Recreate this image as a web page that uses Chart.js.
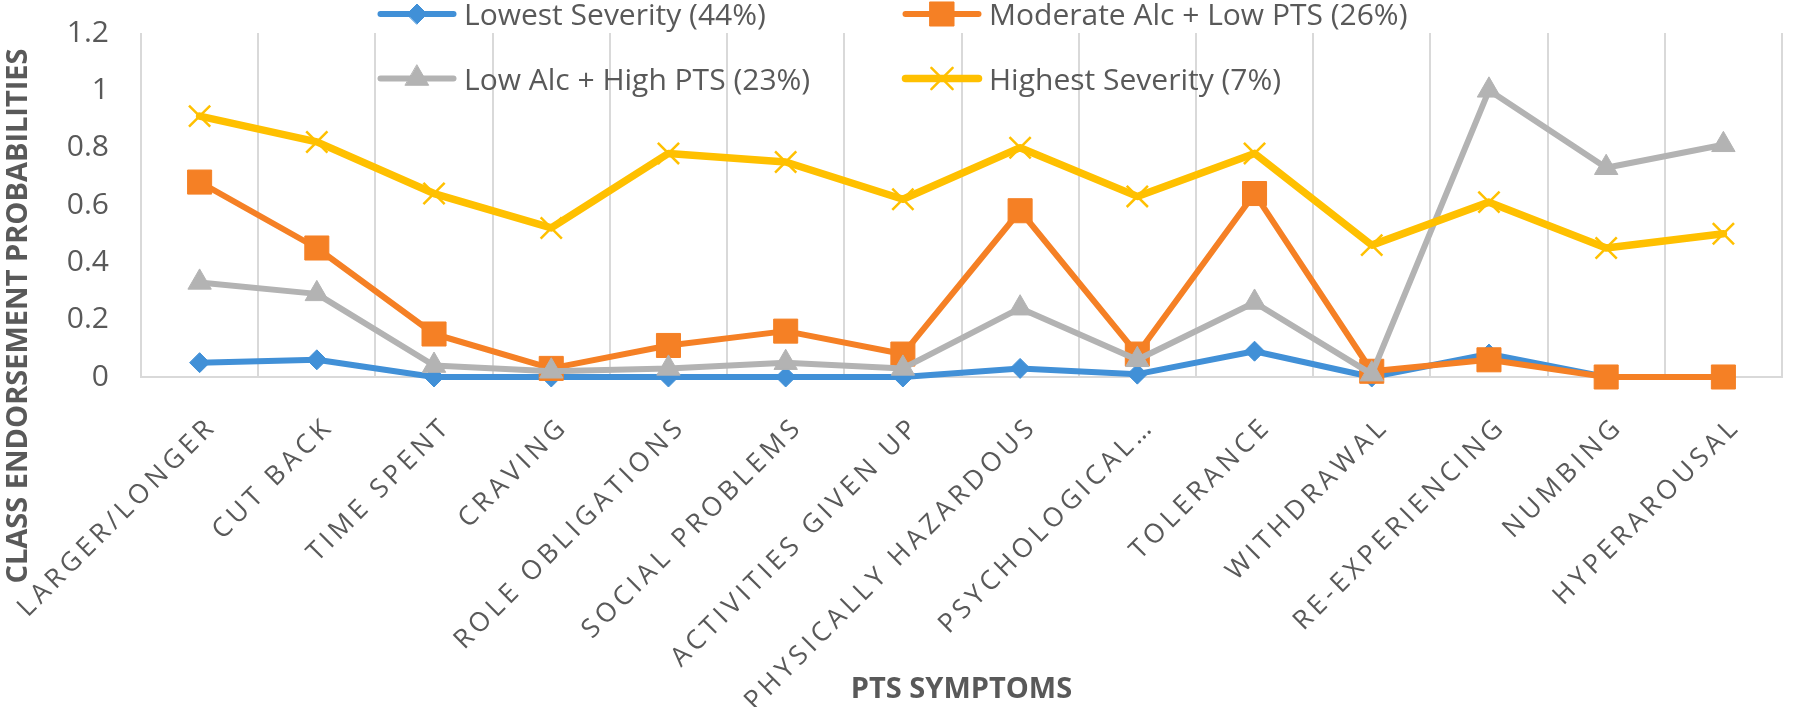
<!DOCTYPE html>
<html>
<head>
<meta charset="utf-8">
<script src="https://cdn.jsdelivr.net/npm/chart.js@4/dist/chart.umd.min.js"></script>
<style>
html,body{margin:0;padding:0;background:#ffffff;}
#wrap{width:1800px;height:707px;position:relative;}
</style>
</head>
<body>
<div id="wrap"><canvas id="c" width="1800" height="707"></canvas></div>
<script>
// ---- data ----
const categories = ['LARGER/LONGER','CUT BACK','TIME SPENT','CRAVING','ROLE OBLIGATIONS','SOCIAL PROBLEMS','ACTIVITIES GIVEN UP','PHYSICALLY HAZARDOUS','PSYCHOLOGICAL\u2026','TOLERANCE','WITHDRAWAL','RE-EXPERIENCING','NUMBING','HYPERAROUSAL'];
const seriesNames = ['Lowest Severity (44%)','Moderate Alc + Low PTS (26%)','Low Alc + High PTS (23%)','Highest Severity (7%)'];
const lowestSeverity    = [0.05, 0.06, 0.00, 0.00, 0.00, 0.00, 0.00, 0.03, 0.01, 0.09, 0.00, 0.08, 0.00, 0.00];
const moderateAlcLowPts = [0.68, 0.45, 0.15, 0.03, 0.11, 0.16, 0.08, 0.58, 0.08, 0.64, 0.02, 0.06, 0.00, 0.00];
const lowAlcHighPts     = [0.33, 0.29, 0.04, 0.02, 0.03, 0.05, 0.03, 0.24, 0.06, 0.26, 0.01, 1.00, 0.73, 0.81];
const highestSeverity   = [0.91, 0.82, 0.64, 0.52, 0.78, 0.75, 0.62, 0.80, 0.63, 0.78, 0.46, 0.61, 0.45, 0.50];
const yTickLabels = ['0','0.2','0.4','0.6','0.8','1','1.2'];
const xAxisTitle = 'PTS SYMPTOMS';
const yAxisTitle = 'CLASS ENDORSEMENT PROBABILITIES';

const TEXT = '#595959';
const GRID = '#d9d9d9';
const FONT = '"Open Sans", "Noto Sans", sans-serif';

function series(label, data, color, style, radius, lw, pbw, order) {
  return {
    label, data, order,
    borderColor: color, backgroundColor: color,
    pointBackgroundColor: color, pointBorderColor: color,
    borderWidth: lw, pointStyle: style, pointRadius: radius, pointHoverRadius: radius,
    pointBorderWidth: pbw, borderJoinStyle: 'round', borderCapStyle: 'round',
    tension: 0, fill: false, clip: false
  };
}

const yTitlePlugin = {
  id: 'yTitleCustom',
  afterDraw(chart) {
    const ctx = chart.ctx;
    ctx.save();
    ctx.translate(27, 316);
    ctx.rotate(-Math.PI / 2);
    ctx.font = 'bold 29px ' + FONT;
    ctx.fillStyle = TEXT;
    ctx.textAlign = 'center';
    ctx.textBaseline = 'alphabetic';
    ctx.fillText(yAxisTitle, 0, 0);
    ctx.restore();
  }
};

const legendPlugin = {
  id: 'excelLegend',
  afterDraw(chart) {
    const ctx = chart.ctx;
    const colX = [377, 902];
    const rowY = [14, 78.5];
    const rowBase = [25, 90];
    chart.data.datasets.forEach((ds, i) => {
      const c = i % 2, r = Math.floor(i / 2);
      const x0 = colX[c], y = rowY[r];
      ctx.save();
      ctx.strokeStyle = ds.borderColor;
      ctx.lineWidth = ds.borderWidth;
      ctx.lineCap = 'round';
      ctx.beginPath();
      ctx.moveTo(x0 + 3.5, y);
      ctx.lineTo(x0 + 76.5, y);
      ctx.stroke();
      ctx.fillStyle = ds.pointBackgroundColor;
      ctx.strokeStyle = ds.pointBorderColor;
      ctx.lineWidth = ds.pointBorderWidth;
      Chart.helpers.drawPoint(ctx, {pointStyle: ds.pointStyle, radius: ds.pointRadius, rotation: 0, borderWidth: ds.pointBorderWidth}, x0 + 40, y);
      ctx.font = '30px ' + FONT;
      ctx.fillStyle = TEXT;
      ctx.textAlign = 'left';
      ctx.textBaseline = 'alphabetic';
      ctx.fillText(ds.label, x0 + 87, rowBase[r]);
      ctx.restore();
    });
  }
};

const xLabelSpacing = {
  id: 'xLabelSpacing',
  beforeDraw(chart) {
    const xs = chart.scales.x;
    if (xs && !xs.__ls) {
      const proto = Object.getPrototypeOf(xs);
      xs.drawLabels = function(area) {
        const ctx = this.ctx;
        ctx.save();
        ctx.letterSpacing = '4.4px';
        proto.drawLabels.call(this, area);
        ctx.restore();
      };
      xs.__ls = true;
    }
  }
};

function draw() {
  Chart.defaults.font.family = FONT;
  new Chart(document.getElementById('c'), {
    type: 'line',
    data: {
      labels: categories,
      datasets: [
        series(seriesNames[0], lowestSeverity,    '#4190d7', 'rectRot',  10,   6,   1,   3),
        series(seriesNames[1], moderateAlcLowPts, '#f58025', 'rect',     17,   6,   1,   2),
        series(seriesNames[2], lowAlcHighPts,     '#b3b3b3', 'triangle', 13.5, 6,   1,   1),
        series(seriesNames[3], highestSeverity,   '#ffc000', 'crossRot', 15,   7.5, 2.5, 0)
      ]
    },
    options: {
      responsive: false,
      devicePixelRatio: 1,
      animation: false,
      events: [],
      layout: { padding: { top: 33, right: 3, left: 0, bottom: 0 } },
      plugins: { legend: { display: false }, tooltip: { enabled: false }, title: { display: false } },
      scales: {
        x: {
          type: 'category',
          offset: true,
          grid: { offset: true, color: GRID, lineWidth: 2, drawTicks: false },
          border: { display: true, color: GRID, width: 2 },
          ticks: {
            autoSkip: false, minRotation: 45, maxRotation: 45,
            font: { family: FONT, size: 26.5 }, color: TEXT,
            padding: 34, labelOffset: 13
          },
          title: {
            display: true, text: xAxisTitle, color: TEXT,
            font: { family: FONT, size: 29, weight: 'bold' },
            padding: { top: 0, bottom: 0 }
          },
          afterFit(scale) { scale.height = 330; scale.paddingLeft = 0; scale.paddingRight = 0; }
        },
        y: {
          min: 0, max: 1.2,
          grid: { display: false, drawTicks: false },
          border: { display: false },
          ticks: {
            stepSize: 0.2, color: TEXT, padding: 32,
            font: { family: FONT, size: 30 },
            callback: (v, i) => yTickLabels[i]
          },
          afterFit(scale) { scale.width = 141; scale.paddingTop = 0; scale.paddingBottom = 0; }
        }
      }
    },
    plugins: [xLabelSpacing, yTitlePlugin, legendPlugin]
  });
}

Promise.all([
  document.fonts.load('30px "Open Sans"'),
  document.fonts.load('bold 30px "Open Sans"')
]).then(draw, draw);
</script>
</body>
</html>
